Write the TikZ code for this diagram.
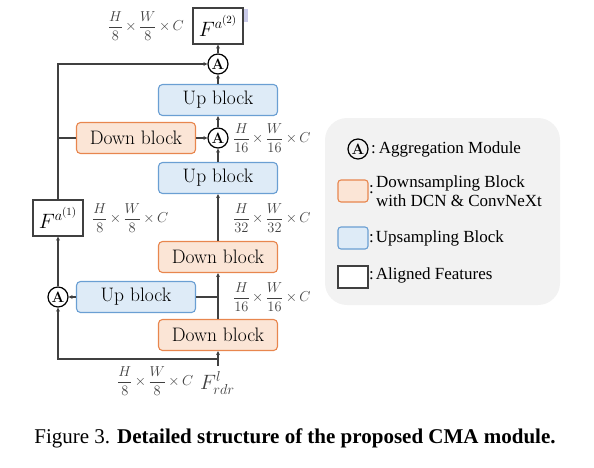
\documentclass[tikz,border=0pt]{standalone}
\usepackage{fontspec}
\newfontfamily\timesf{Liberation Serif}
\usetikzlibrary{arrows.meta}
\definecolor{linec}{HTML}{404040}
\definecolor{orfill}{HTML}{FBE5D6}
\definecolor{ordraw}{HTML}{E8864E}
\definecolor{blfill}{HTML}{DEEBF7}
\definecolor{bldraw}{HTML}{6A9FD3}
\definecolor{legbg}{HTML}{F2F2F2}
\definecolor{hilite}{HTML}{C9CAE8}
\tikzset{
  blk/.style={draw, line width=1.1pt, rounded corners=4pt, minimum width=119pt, minimum height=31pt, inner sep=0pt, font=\fontsize{19.5}{22}\selectfont},
  upblk/.style={blk, fill=blfill, draw=bldraw},
  downblk/.style={blk, fill=orfill, draw=ordraw},
  featbox/.style={draw=linec, line width=1.2pt, fill=white, minimum width=50pt, minimum height=36pt, inner sep=0pt, font=\fontsize{21}{23}\selectfont},
  aggr/.style={circle, draw=black, line width=1.2pt, fill=white, minimum size=20pt, inner sep=0pt, font=\bfseries\fontsize{15}{16}\selectfont},
  conn/.style={draw=linec, line width=1.3pt},
  arr/.style={conn, -{Stealth[length=4pt,width=4pt]}},
  dimlab/.style={inner sep=0pt, text=linec, font=\fontsize{13.5}{14}\selectfont},
  legtext/.style={inner sep=0pt, align=left, font=\timesf\fontsize{17}{18.5}\selectfont},
  legbox/.style={draw, line width=1.1pt, rounded corners=3pt, minimum width=30pt, minimum height=22pt, inner sep=0pt}
}
\newcommand{\dimsz}[2]{$\displaystyle\frac{H}{#1}\mkern-1mu\times\mkern-1mu\frac{W}{#2}\mkern-1mu\times\mkern-1mu C$}
\begin{document}
\begin{tikzpicture}[x=1pt,y=-1pt]
\useasboundingbox (0,0) rectangle (594,467);
% highlight artifact
\fill[hilite] (239,9) rectangle (248,22);
% feature boxes
\node[featbox] (fa2) at (218,26) {$F^{a^{(2)}}$};
\node[featbox] (fa1) at (58,218) {$F^{a^{(1)}}$};
% aggregation nodes
\node[aggr] (aT) at (218,64) {A};
\node[aggr] (aM) at (218,138) {A};
\node[aggr] (aL) at (58,297) {A};
% blocks
\node[upblk] (up1) at (218,100) {Up block};
\node[downblk] (down1) at (136,138) {Down block};
\node[upblk] (up2) at (218,178) {Up block};
\node[downblk] (down2) at (218,257) {Down block};
\node[upblk] (up3) at (136,297) {Up block};
\node[downblk] (down3) at (218,335) {Down block};
% junctions
\coordinate (j1) at (58,138);
\coordinate (j2) at (218,297);
\coordinate (j3) at (218,359);
\coordinate (inp) at (218,366);
% connectors
\draw[arr] (aT) -- (fa2);
\draw[arr] (up1) -- (aT);
\draw[arr] (aM) -- (up1);
\draw[arr] (up2) -- (aM);
\draw[arr] (down1) -- (aM);
\draw[arr] (down2) -- (up2);
\draw[arr] (down3) -- (down2);
\draw[arr] (fa1) |- (aT);
\draw[conn] (down1) -- (j1);
\draw[arr] (aL) -- (fa1);
\draw[arr] (up3) -- (aL);
\draw[conn] (j2) -- (up3);
\draw[arr] (inp) -- (down3);
\draw[arr] (j3) -| (aL);
% dimension labels
\node[dimlab, anchor=east] (l1) at (184,26) {\dimsz{8}{8}};
\node[dimlab, anchor=west] (l2) at (233,138) {\dimsz{16}{16}};
\node[dimlab, anchor=west] (l3) at (92,218) {\dimsz{8}{8}};
\node[dimlab, anchor=west] (l4) at (233,218) {\dimsz{32}{32}};
\node[dimlab, anchor=west] (l5) at (233,297) {\dimsz{16}{16}};
\node[dimlab, anchor=west] (l6) at (117,381) {\dimsz{8}{8}};
\node[dimlab, anchor=west, font=\fontsize{20}{21}\selectfont] (l7) at (200,383) {$F^{l}_{rdr}$};
% legend
\fill[legbg, rounded corners=22pt] (325,118) rectangle (560,305);
\node[aggr, fill=none] (lgA) at (358,149) {A};
\node[legtext, anchor=west] (lgAt) at (371,149) {:\hspace{3pt}Aggregation Module};
\node[legbox, fill=orfill, draw=ordraw] (lgO) at (353,191) {};
\node[legtext, anchor=west] (lgOc) at (369,190) {:};
\node[legtext, anchor=west] (lgOt) at (376,191) {Downsampling Block\\with DCN \& ConvNeXt};
\node[legbox, fill=blfill, draw=bldraw] (lgB) at (353,238) {};
\node[legtext, anchor=west] (lgBt) at (369,238) {:\hspace{2pt}Upsampling Block};
\node[legbox, fill=white, draw=linec, rounded corners=0pt] (lgW) at (353,277) {};
\node[legtext, anchor=west] (lgWt) at (369,275) {:\hspace{2pt}Aligned Features};
% caption
\node[inner sep=0pt, font=\timesf\fontsize{21}{23}\selectfont] (cap) at (295,438) {Figure 3. \textbf{Detailed structure of the proposed CMA module.}};
\end{tikzpicture}
\end{document}
